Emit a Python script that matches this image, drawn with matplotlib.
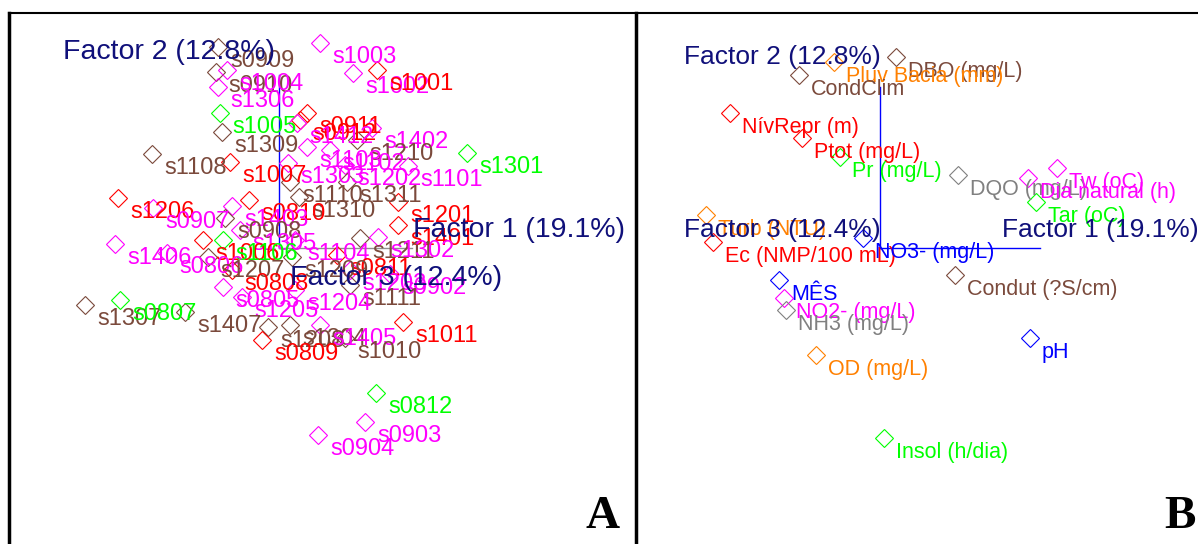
import matplotlib
matplotlib.use('Agg')
import matplotlib.pyplot as plt
from matplotlib.lines import Line2D

plt.rcParams['font.family'] = ['Liberation Sans', 'DejaVu Sans']

# Panel A: sample scores (factor 1, factor 2) and group of each sample
samples = ['s0909', 's0910', 's1004', 's1306', 's1005', 's1309', 's1108', 's1007',
           's1003', 's1002', 's1001', 's0911', 's0912', 's1412', 's1402', 's1210',
           's1103', 's1102', 's1301', 's1303', 's1202', 's1101', 's1110', 's1311',
           's1310', 's0810', 's1201', 's1206', 's0907', 's1403', 's0908', 's1401',
           's1305', 's1211', 's1302', 's1406', 's1006', 's1106', 's1104', 's0806',
           's1207', 's0811', 's1209', 's0808', 's1203', 's0902', 's1111', 's1204',
           's0805', 's1205', 's1307', 's0807', 's1407', 's1208', 's1304', 's1405',
           's1011', 's0809', 's1010', 's0812', 's0903', 's0904']
score_a1 = [-0.61, -0.63, -0.52, -0.61, -0.59, -0.57, -1.27, -0.49,
            0.41, 0.74, 0.98, 0.28, 0.21, 0.18, 0.93, 0.78,
            0.28, 0.51, 1.88, 0.09, 0.66, 1.29, 0.11, 0.68,
            0.20, -0.30, 1.19, -1.61, -1.26, -0.47, -0.54, 1.19,
            -0.39, 0.81, 0.99, -1.64, -0.76, -0.56, 0.16, -1.12,
            -0.71, 0.58, 0.13, -0.47, 0.71, 1.11, 0.71, 0.16,
            -0.56, -0.37, -1.94, -1.59, -0.94, -0.11, 0.11, 0.41,
            1.24, -0.17, 0.66, 0.97, 0.86, 0.39]
score_a2 = [2.01, 1.76, 1.78, 1.61, 1.35, 1.16, 0.94, 0.86,
            2.05, 1.75, 1.78, 1.35, 1.28, 1.25, 1.20, 1.08,
            1.01, 0.98, 0.95, 0.85, 0.83, 0.82, 0.66, 0.66,
            0.51, 0.48, 0.46, 0.50, 0.40, 0.42, 0.30, 0.23,
            0.18, 0.10, 0.11, 0.04, 0.08, 0.08, 0.08, -0.05,
            -0.09, -0.07, -0.09, -0.22, -0.22, -0.26, -0.37, -0.42,
            -0.39, -0.49, -0.57, -0.52, -0.64, -0.79, -0.77, -0.77,
            -0.74, -0.92, -0.90, -1.45, -1.74, -1.87]
group_a = ['br', 'br', 'mg', 'mg', 'gn', 'br', 'br', 'rd',
           'mg', 'mg', 'rd', 'rd', 'rd', 'mg', 'mg', 'br',
           'mg', 'mg', 'gn', 'mg', 'mg', 'mg', 'br', 'br',
           'br', 'rd', 'rd', 'rd', 'mg', 'mg', 'br', 'rd',
           'mg', 'br', 'mg', 'mg', 'rd', 'gn', 'mg', 'mg',
           'br', 'rd', 'br', 'rd', 'mg', 'mg', 'br', 'mg',
           'mg', 'mg', 'br', 'gn', 'br', 'br', 'br', 'mg',
           'rd', 'rd', 'br', 'gn', 'mg', 'mg']

# Panel B: variable loadings (factor 1, factor 2)
variables = ['DBO (mg/L)', 'Pluv Bacia (mm)', 'CondClim', 'NívRepr (m)', 'Ptot (mg/L)',
             'Pr (mg/L)', 'DQO (mg/L)', 'Tw (oC)', 'Dia natural (h)', 'Tar (oC)',
             'Turb (NTU)', 'Ec (NMP/100 mL)', 'NO3- (mg/L)', 'MÊS', 'NO2- (mg/L)',
             'NH3 (mg/L)', 'OD (mg/L)', 'Condut (?S/cm)', 'pH', 'Insol (h/dia)']
load_b1 = [0.16, -0.46, -0.81, -1.50, -0.78, -0.40, 0.78, 1.77, 1.48, 1.56,
           -1.74, -1.67, -0.17, -1.01, -0.96, -0.94, -0.64, 0.75, 1.50, 0.04]
load_b2 = [1.91, 1.86, 1.73, 1.35, 1.10, 0.91, 0.73, 0.80, 0.70, 0.46,
           0.33, 0.06, 0.10, -0.32, -0.50, -0.62, -1.07, -0.27, -0.90, -1.90]
group_b = ['br', 'or', 'br', 'rd', 'rd', 'gn', 'gy', 'mg', 'mg', 'gn',
           'or', 'rd', 'bl', 'bl', 'mg', 'gy', 'or', 'br', 'bl', 'gn']

colors = {'rd': '#ff0000', 'mg': '#ff00ff', 'gn': '#00ff00', 'br': '#7b4a3c',
          'or': '#ff8000', 'bl': '#0000ff', 'gy': '#808080'}
navy = '#10107a'

W, H = 1198, 544
fig = plt.figure(figsize=(W / 100, H / 100), dpi=100)


def panel(left, right, x_origin, labels, xs, ys, groups, fsize, vline, hline, hcolor, titles, tsize):
    ax = fig.add_axes([left / W, 0, (right - left) / W, 1 - 13 / H])
    ax.set_xlim((left - x_origin) / 100, (right - x_origin) / 100)
    ax.set_ylim((248 - 544) / 100, (248 - 13) / 100)
    ax.axis('off')
    ax.plot([0, 0], [0, vline], color='#0000ff', lw=1)
    ax.plot([0, hline], [0, 0], color=hcolor, lw=1)
    for lab, x, y, g in zip(labels, xs, ys, groups):
        c = colors[g]
        ax.plot(x, y, marker='D', ms=9, mfc='none', mec=c, mew=0.8, ls='none')
        ax.annotate(lab, (x, y), xytext=(12, -14), textcoords='offset pixels',
                    ha='left', va='center', color=c, fontsize=fsize)
    for txt, x, y in titles:
        ax.text(x, y, txt, ha='left', va='center', color=navy, fontsize=tsize)
    return ax


panel(9, 636, 279, samples, score_a1, score_a2, group_a, 17, 1.73, 1.33, '#909090',
      [('Factor 2 (12.8%)', -2.16, 1.96), ('Factor 1 (19.1%)', 1.34, 0.18),
       ('Factor 3 (12.4%)', 0.11, -0.30)], 20.5)
panel(636, 1198, 880, variables, load_b1, load_b2, group_b, 15.5, 1.61, 1.60, '#0000ff',
      [('Factor 2 (12.8%)', -1.96, 1.91), ('Factor 1 (19.1%)', 1.22, 0.18),
       ('Factor 3 (12.4%)', -1.96, 0.18)], 19)

# frame lines
fig.add_artist(Line2D([9 / W, 1], [1 - 13 / H, 1 - 13 / H], color='black', lw=1.5))
fig.add_artist(Line2D([9 / W, 9 / W], [0, 1 - 13 / H], color='black', lw=2.5))
fig.add_artist(Line2D([636 / W, 636 / W], [0, 1 - 13 / H], color='black', lw=2.5))

fig.text(603 / W, 1 - 517 / H, 'A', family='Liberation Serif', weight='bold',
         fontsize=34, ha='center', va='center')
fig.text(1180 / W, 1 - 517 / H, 'B', family='Liberation Serif', weight='bold',
         fontsize=34, ha='center', va='center')

plt.savefig('out.png', dpi=100)
plt.close()
